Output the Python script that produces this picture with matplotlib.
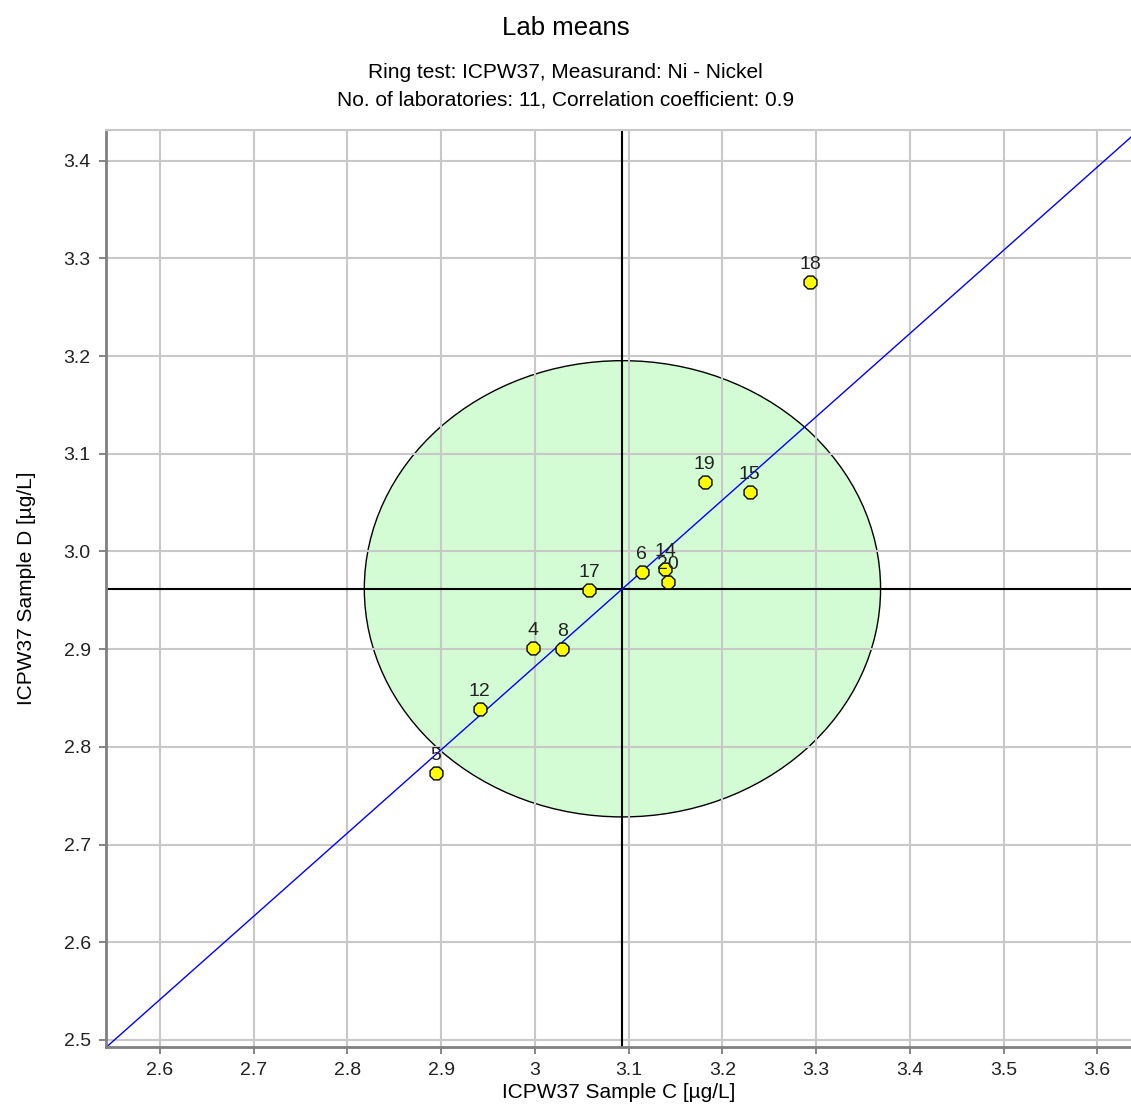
import matplotlib
matplotlib.use("Agg")
import matplotlib.pyplot as plt
from matplotlib.patches import Ellipse
from matplotlib import font_manager
import numpy as np

# ---- data ----
labs = ["18", "19", "15", "6", "14", "20", "17", "4", "8", "12", "5"]
sample_c = [3.294, 3.181, 3.229, 3.114, 3.139, 3.142, 3.058, 2.998, 3.029, 2.941, 2.894]
sample_d = [3.276, 3.071, 3.061, 2.979, 2.982, 2.969, 2.961, 2.901, 2.900, 2.839, 2.773]
center_c = 3.0934
center_d = 2.9618
ellipse_half_c = 0.2754
ellipse_half_d = 0.2335
slope = 0.852
x_ticks = [2.6, 2.7, 2.8, 2.9, 3.0, 3.1, 3.2, 3.3, 3.4, 3.5, 3.6]
x_tick_labels = ["2.6", "2.7", "2.8", "2.9", "3", "3.1", "3.2", "3.3", "3.4", "3.5", "3.6"]
y_ticks = [2.5, 2.6, 2.7, 2.8, 2.9, 3.0, 3.1, 3.2, 3.3, 3.4]
y_tick_labels = ["2.5", "2.6", "2.7", "2.8", "2.9", "3.0", "3.1", "3.2", "3.3", "3.4"]
title = "Lab means"
subtitle1 = "Ring test: ICPW37, Measurand: Ni - Nickel"
subtitle2 = "No. of laboratories: 11, Correlation coefficient: 0.9"
xlabel = "ICPW37 Sample C [µg/L]"
ylabel = "ICPW37 Sample D [µg/L]"

names = {f.name for f in font_manager.fontManager.ttflist}
fam = [f for f in ["Liberation Sans Narrow", "Liberation Sans", "DejaVu Sans"] if f in names]
plt.rcParams["font.family"] = fam

fig = plt.figure(figsize=(11.31, 11.13), dpi=100)
ax = fig.add_axes([106 / 1131, 1 - 1047 / 1113, (1131 - 106) / 1131, (1047 - 130) / 1113])
xlim = (2.5424, 3.636)
ylim = (2.4928, 3.4314)
ax.set_xlim(*xlim)
ax.set_ylim(*ylim)

ax.set_axisbelow("line")
ax.grid(True, color="#c8c8c8", linewidth=1.5)

ell = Ellipse((center_c, center_d), 2 * ellipse_half_c, 2 * ellipse_half_d,
              facecolor="#d4fcd4", edgecolor="black", linewidth=1.0, zorder=1)
ax.add_patch(ell)

ax.axvline(center_c, color="black", linewidth=1.5, zorder=2)
ax.axhline(center_d, color="black", linewidth=1.5, zorder=2)

xs = np.array(xlim)
ax.plot(xs, center_d + slope * (xs - center_c), color="#0000ff", linewidth=1.0, zorder=2.5)

ax.scatter(sample_c, sample_d, s=100, marker="8", facecolor="#ffff00",
           edgecolor="black", linewidth=1.0, zorder=3)
for lab, x, y in zip(labs, sample_c, sample_d):
    ax.annotate(lab, (x, y), xytext=(0, 6.5), textcoords="offset points",
                ha="center", va="bottom", fontsize=14, color="#222222", zorder=4)

ax.set_xticks(x_ticks)
ax.set_xticklabels(x_tick_labels)
ax.set_yticks(y_ticks)
ax.set_yticklabels(y_tick_labels)
ax.tick_params(axis="both", direction="out", length=5, width=1.2, color="#707070",
               labelsize=14, labelcolor="#222222", pad=6)

for side in ["left", "bottom"]:
    ax.spines[side].set_color("#808080")
    ax.spines[side].set_linewidth(2)
ax.spines["top"].set_color("#c8c8c8")
ax.spines["top"].set_linewidth(1.5)
ax.spines["right"].set_visible(False)

ax.set_xlabel(xlabel, fontsize=15, labelpad=3)
ax.set_ylabel(ylabel, fontsize=15, labelpad=20)

fig.text(0.5, 1 - 28 / 1113, title, ha="center", va="center", fontsize=18.5)
fig.text(0.5, 1 - 73 / 1113, subtitle1, ha="center", va="center", fontsize=15)
fig.text(0.5, 1 - 100 / 1113, subtitle2, ha="center", va="center", fontsize=15)

fig.savefig("out.png", dpi=100)
